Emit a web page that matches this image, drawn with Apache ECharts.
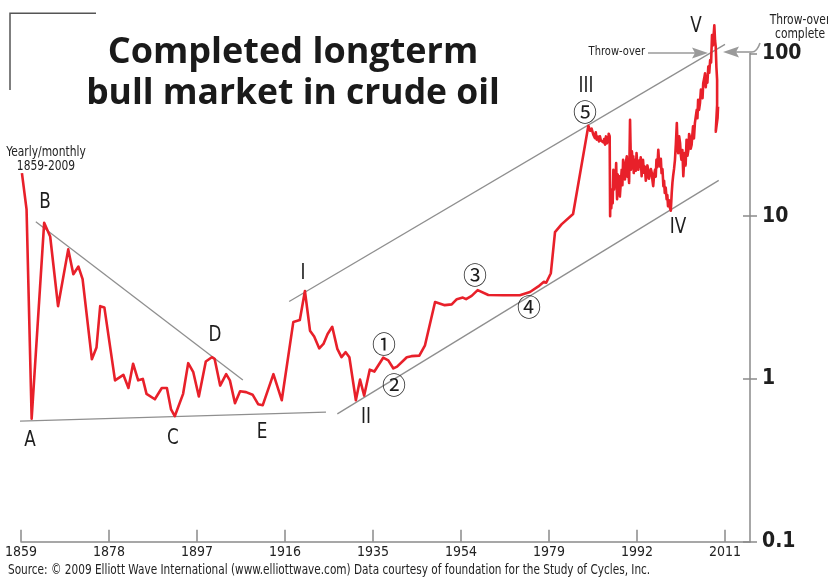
<!DOCTYPE html>
<html><head><meta charset="utf-8">
<script src="https://cdn.jsdelivr.net/npm/echarts@6/dist/echarts.min.js"></script>
<style>html,body{margin:0;padding:0;background:#fff}#c{width:828px;height:578px}</style>
</head><body><div id="c"></div>
<script>
// x values are years on the chart's evenly spaced scale (19 years per labelled tick)
const tickValues = [1859, 1878, 1897, 1916, 1935, 1954, 1973, 1992, 2011];
const tickLabels = ['1859', '1878', '1897', '1916', '1935', '1954', '1979', '1992', '2011'];
const yTicks = [0.1, 1, 10, 100];

// Yearly part of the crude oil price (log scale)
const yearlyYears = [
  1859.2, 1860.2, 1861.3, 1864.0, 1865.3, 1867.0, 1869.2, 1870.3, 1871.4, 1872.3,
  1874.3, 1875.3, 1876.1, 1877.0, 1879.3, 1881.1, 1882.2, 1883.2, 1884.3, 1885.3,
  1886.1, 1887.9, 1889.4, 1890.5, 1891.4, 1892.2, 1894.0, 1895.1, 1896.2, 1897.4,
  1898.9, 1900.2, 1900.8, 1902.0, 1903.3, 1904.1, 1905.2, 1906.3, 1907.6, 1909.0,
  1910.2, 1911.2, 1913.5, 1915.3, 1917.8, 1919.2, 1920.3, 1921.4, 1922.3, 1923.4,
  1924.3, 1925.2, 1926.2, 1927.3, 1928.2, 1929.1, 1929.9, 1931.3, 1932.2, 1933.1,
  1934.3, 1935.3, 1937.2, 1938.3, 1939.4, 1940.2, 1942.3, 1943.3, 1945.0, 1946.2,
  1948.4, 1950.5, 1952.0, 1953.1, 1954.4, 1955.1, 1956.3, 1957.6, 1959.9, 1963.1,
  1966.7, 1968.9, 1970.7, 1971.9, 1972.4, 1973.4, 1974.3, 1975.7, 1978.2
];
const yearlyPrices = [
  18.4, 11, 0.57, 9.1, 7.5, 2.8, 6.25, 4.4, 4.9, 4.1,
  1.32, 1.56, 2.8, 2.75, 0.98, 1.06, 0.88, 1.24, 0.98, 1.0,
  0.81, 0.75, 0.88, 0.88, 0.65, 0.59, 0.81, 1.25, 1.1, 0.78,
  1.28, 1.36, 1.33, 0.91, 1.07, 0.98, 0.71, 0.84, 0.83, 0.80,
  0.70, 0.69, 1.07, 0.74, 2.24, 2.3, 3.47, 1.98, 1.82, 1.54,
  1.64, 1.89, 2.09, 1.53, 1.36, 1.46, 1.36, 0.74, 0.99, 0.79,
  1.14, 1.11, 1.35, 1.3, 1.16, 1.19, 1.36, 1.38, 1.39, 1.6,
  2.97, 2.84, 2.87, 3.09, 3.16, 3.09, 3.24, 3.51, 3.28, 3.27,
  3.27, 3.42, 3.7, 3.95, 3.9, 4.46, 7.98, 8.9, 10.3
];

// Monthly part
const monthlyYears = [
  1981.5, 1981.9, 1982.2, 1982.6, 1982.9, 1983.1, 1983.3, 1983.6, 1983.8, 1984.0,
  1984.2, 1984.4, 1984.7, 1984.9, 1985.1, 1985.3, 1985.5, 1985.8, 1985.9, 1986.1,
  1986.2, 1986.3, 1986.45, 1986.6, 1986.75, 1986.9, 1987.05, 1987.2, 1987.35, 1987.5,
  1987.6, 1987.7, 1987.85, 1988.0, 1988.15, 1988.3, 1988.5, 1988.7, 1988.85, 1989.0,
  1989.2, 1989.4, 1989.6, 1989.8, 1989.95, 1990.1, 1990.3, 1990.5, 1990.6, 1990.7,
  1990.9, 1991.1, 1991.2, 1991.3, 1991.45, 1991.6, 1991.75, 1991.9, 1992.1, 1992.3,
  1992.45, 1992.6, 1992.8, 1993.0, 1993.15, 1993.3, 1993.5, 1993.7, 1993.9, 1994.1,
  1994.25, 1994.4, 1994.6, 1994.8, 1995.0, 1995.2, 1995.35, 1995.5, 1995.7, 1995.9,
  1996.05, 1996.2, 1996.4, 1996.6, 1996.8, 1997.0, 1997.15, 1997.3, 1997.5, 1997.7,
  1997.85, 1998.0, 1998.2, 1998.4, 1998.55, 1998.7, 1998.9, 1999.1, 1999.3, 1999.5,
  1999.65, 1999.8, 2000.0, 2000.2, 2000.4, 2000.6, 2000.75, 2000.9, 2001.1, 2001.3,
  2001.45, 2001.6, 2001.8, 2002.0, 2002.15, 2002.3, 2002.5, 2002.7, 2002.9, 2003.1,
  2003.25, 2003.4, 2003.6, 2003.8, 2003.95, 2004.1, 2004.3, 2004.5, 2004.7, 2004.9,
  2005.05, 2005.2, 2005.4, 2005.6, 2005.8, 2006.0, 2006.15, 2006.3, 2006.5, 2006.7,
  2006.85, 2007.0, 2007.2, 2007.4, 2007.6, 2007.8, 2008.0, 2008.2, 2008.4, 2008.7,
  2008.85, 2009.0, 2009.15, 2009.3, 2009.3, 2009.0, 2009.4, 2009.5
];
const monthlyPrices = [
  35.9, 33.5, 34.5, 31.5, 30.2, 32.8, 29.5, 30.8, 28.8, 31.0,
  29.2, 30.0, 28.4, 29.8, 27.5, 30.9, 28.0, 29.5, 32.1, 31.0,
  10.0, 14.6, 11.2, 13.5, 12.0, 19.3, 14.6, 17.5, 15.3, 21.2,
  16.0, 12.7, 18.0, 14.5, 17.6, 13.2, 16.0, 19.3, 15.5, 22.2,
  18.0, 16.8, 21.5, 23.3, 17.5, 19.3, 16.0, 39.1, 28.0, 19.3,
  25.0, 20.5, 23.3, 18.4, 21.0, 22.2, 19.0, 24.4, 20.0, 19.3,
  22.0, 20.2, 23.0, 17.6, 21.0, 22.2, 18.5, 20.2, 16.5, 17.6,
  20.5, 19.3, 17.0, 16.8, 19.5, 18.4, 16.5, 15.3, 18.0, 19.3,
  17.5, 22.2, 20.0, 25.6, 21.0, 20.2, 22.5, 18.4, 19.5, 15.3,
  16.5, 13.9, 15.0, 12.7, 13.5, 11.5, 12.5, 11.3, 10.8, 13.9,
  16.0, 17.6, 19.5, 22.2, 28.0, 37.3, 27.0, 24.4, 31.0, 28.2,
  24.0, 22.2, 25.5, 17.6, 21.0, 24.4, 20.5, 29.5, 23.5, 25.6,
  32.0, 30.9, 26.0, 27.5, 31.5, 35.6, 30.0, 37.3, 41.0, 45,
  40.0, 51.8, 45.0, 49.5, 60.0, 59.7, 53.0, 65.6, 70.0, 75.5,
  62.0, 72, 66.0, 82.9, 76.0, 91.1, 88.0, 129.6, 112.0, 149,
  120.0, 109.9, 82.0, 68.7, 48.3, 33, 40.2, 47
];

// Trend lines (start/end points)
const upperChannel = [[1916.9, 2.99], [2011.0, 113.7]];
const lowerChannel = [[1927.3, 0.61], [2009.65, 16.6]];
const baseLine = [[1858.2, 0.55], [1924.85, 0.625]];
const bdLine = [[1862.2, 9.24], [1906.9, 0.986]];

const COND = "'DejaVu Sans Condensed','Liberation Sans Narrow',sans-serif";
const chart = echarts.init(document.getElementById('c'), null, {renderer: 'canvas'});
const priceData = yearlyYears.map((y, i) => [y, yearlyPrices[i]])
  .concat(monthlyYears.map((y, i) => [y, monthlyPrices[i]]));
const grey = '#8f8f8f';
const trend = (d) => ({type: 'line', data: d, showSymbol: false, clip: false, silent: true,
  lineStyle: {color: grey, width: 1.3}, z: 1});

function lbl(x, y, t, size, font, sx) {
  return {type: 'text', x: x, y: y, scaleX: sx || 0.85, style: {text: t, fill: '#1e1e1e', font: (size || 22) + 'px ' + (font || COND),
    align: 'center', verticalAlign: 'middle'}, z: 10};
}
function txt(x, y, t, size, align, sx) {
  return {type: 'text', x: x, y: y, scaleX: sx || 0.85, style: {text: t, fill: '#222', font: size + 'px ' + COND,
    align: align || 'center', verticalAlign: 'middle'}, z: 10};
}
const circ = "'Noto Sans CJK JP','DejaVu Sans',sans-serif";

chart.setOption({
  animation: false,
  backgroundColor: '#fff',
  grid: {left: 21, right: 78, top: 53.4, bottom: 36.3, containLabel: false},
  xAxis: {
    type: 'value', min: 1859, max: 2016.4,
    axisLine: {show: true, lineStyle: {color: '#8a8a8a', width: 1.5}},
    axisTick: {show: true, inside: true, length: 12, customValues: tickValues, lineStyle: {color: '#8a8a8a', width: 1.5}},
    axisLabel: {customValues: tickValues, margin: 4, color: '#222', fontSize: 14, fontFamily: COND,
      formatter: (v) => { const i = tickValues.indexOf(Math.round(v)); return i >= 0 ? tickLabels[i] : ''; }},
    splitLine: {show: false}
  },
  yAxis: [{
    type: 'log', logBase: 10, min: 0.1, max: 100, position: 'right',
    axisLine: {show: true, lineStyle: {color: '#8a8a8a', width: 1.5}},
    axisTick: {show: true, length: 7, customValues: yTicks, lineStyle: {color: '#8a8a8a', width: 1.5}},
    axisLabel: {customValues: yTicks, margin: 12, color: '#1e1e1e', fontSize: 21, fontWeight: 'bold', fontFamily: COND,
      formatter: (v) => String(v)},
    splitLine: {show: false}
  }, {
    type: 'log', logBase: 10, min: 0.1, max: 100, position: 'right',
    axisLine: {show: false},
    axisTick: {show: true, inside: true, length: 7, customValues: [0.1, 1, 10], lineStyle: {color: '#8a8a8a', width: 1.5}},
    axisLabel: {show: false}, splitLine: {show: false}
  }],
  series: [
    trend(upperChannel), trend(lowerChannel), trend(baseLine), trend(bdLine),
    {type: 'line', data: priceData, showSymbol: false, clip: false, silent: true, z: 5,
      lineStyle: {color: '#e8202a', width: 2.6, join: 'round'}}
  ],
  graphic: [
    {type: 'polyline', shape: {points: [[10, 90], [10, 13.3], [96, 13.3]]}, style: {stroke: '#555', lineWidth: 1.5, fill: null}},
    {type: 'text', x: 293, y: 53, style: {text: 'Completed longterm', font: "bold 36px 'Open Sans',sans-serif", fill: '#1a1a1a', align: 'center', verticalAlign: 'middle'}},
    {type: 'text', x: 293, y: 94, scaleX: 0.985, style: {text: 'bull market in crude oil', font: "bold 36px 'Open Sans',sans-serif", fill: '#1a1a1a', align: 'center', verticalAlign: 'middle'}},
    txt(46, 152, 'Yearly/monthly', 14),
    txt(46, 166, '1859-2009', 14),
    txt(8, 570, 'Source: © 2009 Elliott Wave International (www.elliottwave.com) Data courtesy of foundation for the Study of Cycles, Inc.', 14, 'left', 0.835),
    lbl(30, 440, 'A'), lbl(45, 202, 'B'), lbl(173, 438, 'C'), lbl(215, 335, 'D'), lbl(262, 432, 'E'),
    lbl(303, 273, 'I'), lbl(366, 417, 'II'), lbl(586, 86, 'III'), lbl(678, 227, 'IV'), lbl(696, 26, 'V'),
    lbl(384, 344, '①', 24, circ, 1), lbl(394, 385, '②', 24, circ, 1), lbl(475, 275, '③', 24, circ, 1),
    lbl(529, 307, '④', 24, circ, 1), lbl(585, 112, '⑤', 24, circ, 1),
    txt(645, 52, 'Throw-over', 13, 'right'),
    {type: 'line', shape: {x1: 648, y1: 53, x2: 696, y2: 53}, style: {stroke: '#9a9a9a', lineWidth: 1.6}},
    {type: 'polygon', shape: {points: [[708, 53], [692, 47.5], [695, 53], [692, 58.5]]}, style: {fill: '#9a9a9a'}},
    {type: 'polygon', shape: {points: [[723, 52], [739, 46.5], [736, 52], [739, 57.5]]}, style: {fill: '#9a9a9a'}},
    {type: 'polyline', shape: {points: [[736, 52], [752, 52]]}, style: {stroke: '#9a9a9a', lineWidth: 1.6, fill: null}},
    {type: 'bezierCurve', shape: {x1: 752, y1: 52, cpx1: 757, cpy1: 52, x2: 760, y2: 43}, style: {stroke: '#9a9a9a', lineWidth: 1.6, fill: null}},
    txt(800, 20, 'Throw-over', 14),
    txt(800, 34, 'complete', 14)
  ]
});
</script></body></html>
